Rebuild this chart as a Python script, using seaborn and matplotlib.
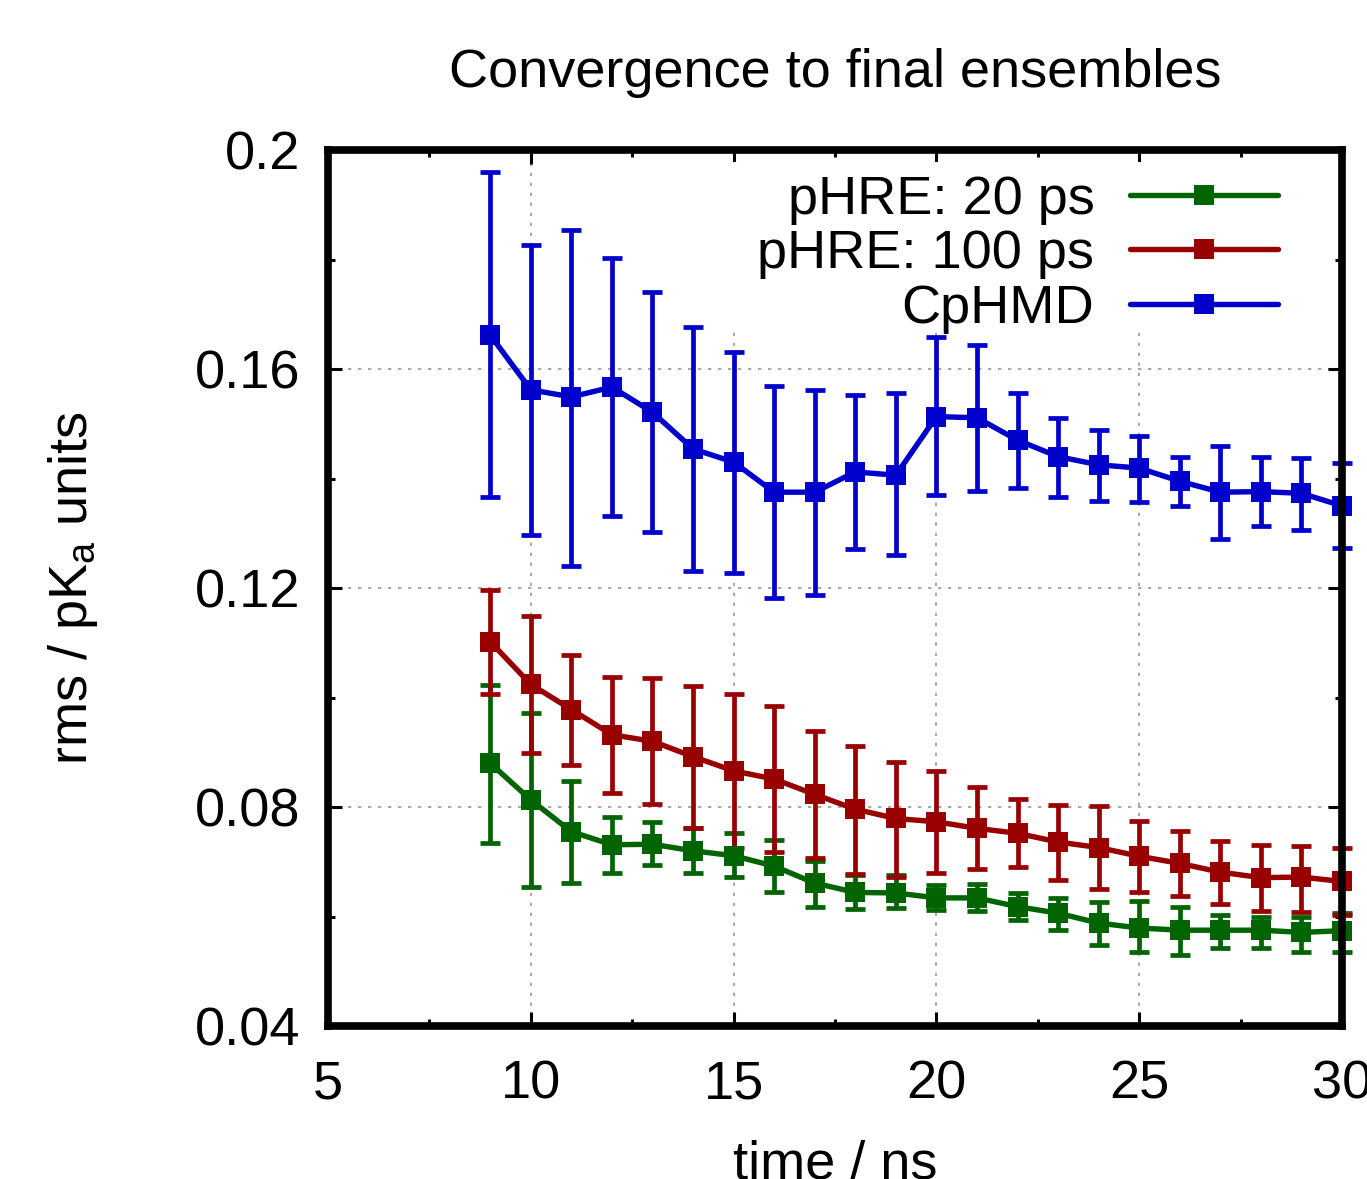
import numpy as np
import pandas as pd
import matplotlib
matplotlib.use("Agg")
import matplotlib.pyplot as plt
import seaborn as sns
from matplotlib.ticker import MultipleLocator
from matplotlib.patches import Rectangle

# ---------------- data ----------------
time_ns = [9, 10, 11, 12, 13, 14, 15, 16, 17, 18, 19, 20, 21, 22, 23, 24, 25, 26, 27, 28, 29, 30]

green_y = [0.0880, 0.0813, 0.0755, 0.0731, 0.0732, 0.0720, 0.0711, 0.0692, 0.0661, 0.0644, 0.0643,
           0.0634, 0.0634, 0.0618, 0.0606, 0.0588, 0.0579, 0.0575, 0.0575, 0.0575, 0.0571, 0.0574]
green_lo = [0.0734, 0.0653, 0.0661, 0.0679, 0.0694, 0.0679, 0.0673, 0.0644, 0.0618, 0.0613, 0.0615,
            0.0612, 0.0610, 0.0594, 0.0575, 0.0548, 0.0535, 0.0530, 0.0542, 0.0542, 0.0536, 0.0536]
green_hi = [0.1023, 0.0971, 0.0848, 0.0782, 0.0772, 0.0762, 0.0752, 0.0740, 0.0702, 0.0675, 0.0675,
            0.0658, 0.0660, 0.0643, 0.0634, 0.0626, 0.0628, 0.0617, 0.0603, 0.0600, 0.0600, 0.0606]

red_y = [0.1102, 0.1024, 0.0978, 0.0932, 0.0920, 0.0892, 0.0866, 0.0851, 0.0823, 0.0796, 0.0779,
         0.0773, 0.0761, 0.0752, 0.0736, 0.0726, 0.0710, 0.0697, 0.0681, 0.0671, 0.0672, 0.0664]
red_lo = [0.1006, 0.0898, 0.0877, 0.0825, 0.0805, 0.0761, 0.0725, 0.0718, 0.0706, 0.0677, 0.0673,
          0.0679, 0.0686, 0.0691, 0.0667, 0.0650, 0.0644, 0.0637, 0.0623, 0.0610, 0.0609, 0.0603]
red_hi = [0.1196, 0.1148, 0.1078, 0.1037, 0.1035, 0.1021, 0.1006, 0.0984, 0.0939, 0.0911, 0.0883,
          0.0866, 0.0836, 0.0815, 0.0803, 0.0801, 0.0774, 0.0756, 0.0738, 0.0731, 0.0728, 0.0725]

blue_y = [0.1662, 0.1562, 0.1549, 0.1567, 0.1521, 0.1454, 0.1430, 0.1375, 0.1375, 0.1412, 0.1406,
          0.1513, 0.1511, 0.1470, 0.1440, 0.1425, 0.1419, 0.1395, 0.1375, 0.1376, 0.1373, 0.1350]
blue_lo = [0.1366, 0.1297, 0.1240, 0.1331, 0.1302, 0.1231, 0.1227, 0.1182, 0.1187, 0.1271, 0.1260,
           0.1369, 0.1378, 0.1382, 0.1367, 0.1358, 0.1357, 0.1350, 0.1290, 0.1314, 0.1306, 0.1273]
blue_hi = [0.1960, 0.1827, 0.1854, 0.1803, 0.1741, 0.1677, 0.1631, 0.1569, 0.1562, 0.1553, 0.1556,
           0.1659, 0.1644, 0.1557, 0.1510, 0.1489, 0.1478, 0.1440, 0.1460, 0.1440, 0.1438, 0.1428]

series_names = ["pHRE: 20 ps", "pHRE: 100 ps", "CpHMD"]
series_colors = ["#006400", "#990000", "#0000cc"]

x_ticks = [5, 10, 15, 20, 25, 30]
y_ticks = [0.04, 0.08, 0.12, 0.16, 0.2]
y_tick_labels = ["0.04", "0.08", "0.12", "0.16", "0.2"]

# ---------------- style ----------------
sns.set_theme(style="white")
plt.rcParams["font.family"] = ["Liberation Sans", "DejaVu Sans"]
plt.rcParams["mathtext.fontset"] = "custom"
plt.rcParams["mathtext.rm"] = "Liberation Sans"
plt.rcParams["mathtext.it"] = "Liberation Sans"
for k in ["text.color", "axes.labelcolor", "xtick.color", "ytick.color", "axes.edgecolor"]:
    plt.rcParams[k] = "black"

FS = 39

fig = plt.figure(figsize=(13.67, 11.79), dpi=100)
ax = fig.add_axes([328 / 1367, 1 - 1026 / 1179, (1342 - 328) / 1367, (1026 - 150) / 1179])

frames = []
for name, y, lo, hi in zip(series_names,
                           [green_y, red_y, blue_y],
                           [green_lo, red_lo, blue_lo],
                           [green_hi, red_hi, blue_hi]):
    frames.append(pd.DataFrame({"time": time_ns, "rms": y, "lo": lo, "hi": hi, "series": name}))
df = pd.concat(frames, ignore_index=True)

for name, color in zip(series_names, series_colors):
    sub = df[df["series"] == name]
    yerr = np.vstack([sub["rms"] - sub["lo"], sub["hi"] - sub["rms"]])
    eb = ax.errorbar(sub["time"], sub["rms"], yerr=yerr, fmt="none", ecolor=color,
                     elinewidth=3.4, capsize=7, capthick=3.4, zorder=3)
    for art in list(eb.lines[1]) + list(eb.lines[2]):
        art.set_clip_on(False)

sns.lineplot(data=df, x="time", y="rms", hue="series", hue_order=series_names,
             palette=dict(zip(series_names, series_colors)), marker="s", markersize=14,
             markeredgewidth=0, linewidth=3.9, ax=ax, zorder=4, clip_on=False,
             estimator=None, sort=False)

ax.set_xlim(5, 30)
ax.set_ylim(0.04, 0.2)
ax.set_xticks(x_ticks)
ax.set_yticks(y_ticks)
ax.set_yticklabels(y_tick_labels)
ax.xaxis.set_minor_locator(MultipleLocator(2.5))
ax.yaxis.set_minor_locator(MultipleLocator(0.02))

ax.tick_params(which="both", direction="in", top=True, right=True, bottom=True, left=True,
               color="black", width=2.2)
ax.tick_params(which="major", length=10)
ax.tick_params(which="minor", length=5)
ax.tick_params(axis="x", which="major", pad=24, labelsize=FS)
ax.tick_params(axis="y", which="major", pad=20, labelsize=FS)

for sp in ax.spines.values():
    sp.set_visible(True)
    sp.set_color("black")
    sp.set_linewidth(5.5)
    sp.set_zorder(6)

ax.grid(True, which="major", color="#999999", linestyle=(0, (2, 4)), linewidth=1.2)
ax.set_axisbelow(True)

# white key area hiding the grid behind the legend (as in the original)
key_bg = Rectangle(((725 - 328) / 1014, (1026 - 332) / 876), (1300 - 725) / 1014, (332 - 162) / 876,
                   transform=ax.transAxes, facecolor="white", edgecolor="none", zorder=1)
ax.add_patch(key_bg)

ax.set_title("Convergence to final ensembles", fontsize=FS, pad=45)
ax.set_xlabel("time / ns", fontsize=FS)
ax.set_ylabel(r"rms / pK$_\mathregular{a}$ units", fontsize=FS)
ax.xaxis.set_label_coords(0.5, -0.13)
ax.yaxis.set_label_coords(-0.225, 0.5)

handles, labels = ax.get_legend_handles_labels()
leg = ax.legend(handles, labels, loc="upper right",
                bbox_to_anchor=((1278 - 328) / 1014, (1026 - 175) / 876),
                fontsize=FS, markerfirst=False, frameon=False,
                handlelength=2.74, handletextpad=0.65, labelspacing=0.08,
                borderaxespad=0.0, borderpad=0.0)
leg.set_zorder(5)
for t in leg.get_texts():
    t.set_ha("right")

fig.savefig("out.png", dpi=100)
